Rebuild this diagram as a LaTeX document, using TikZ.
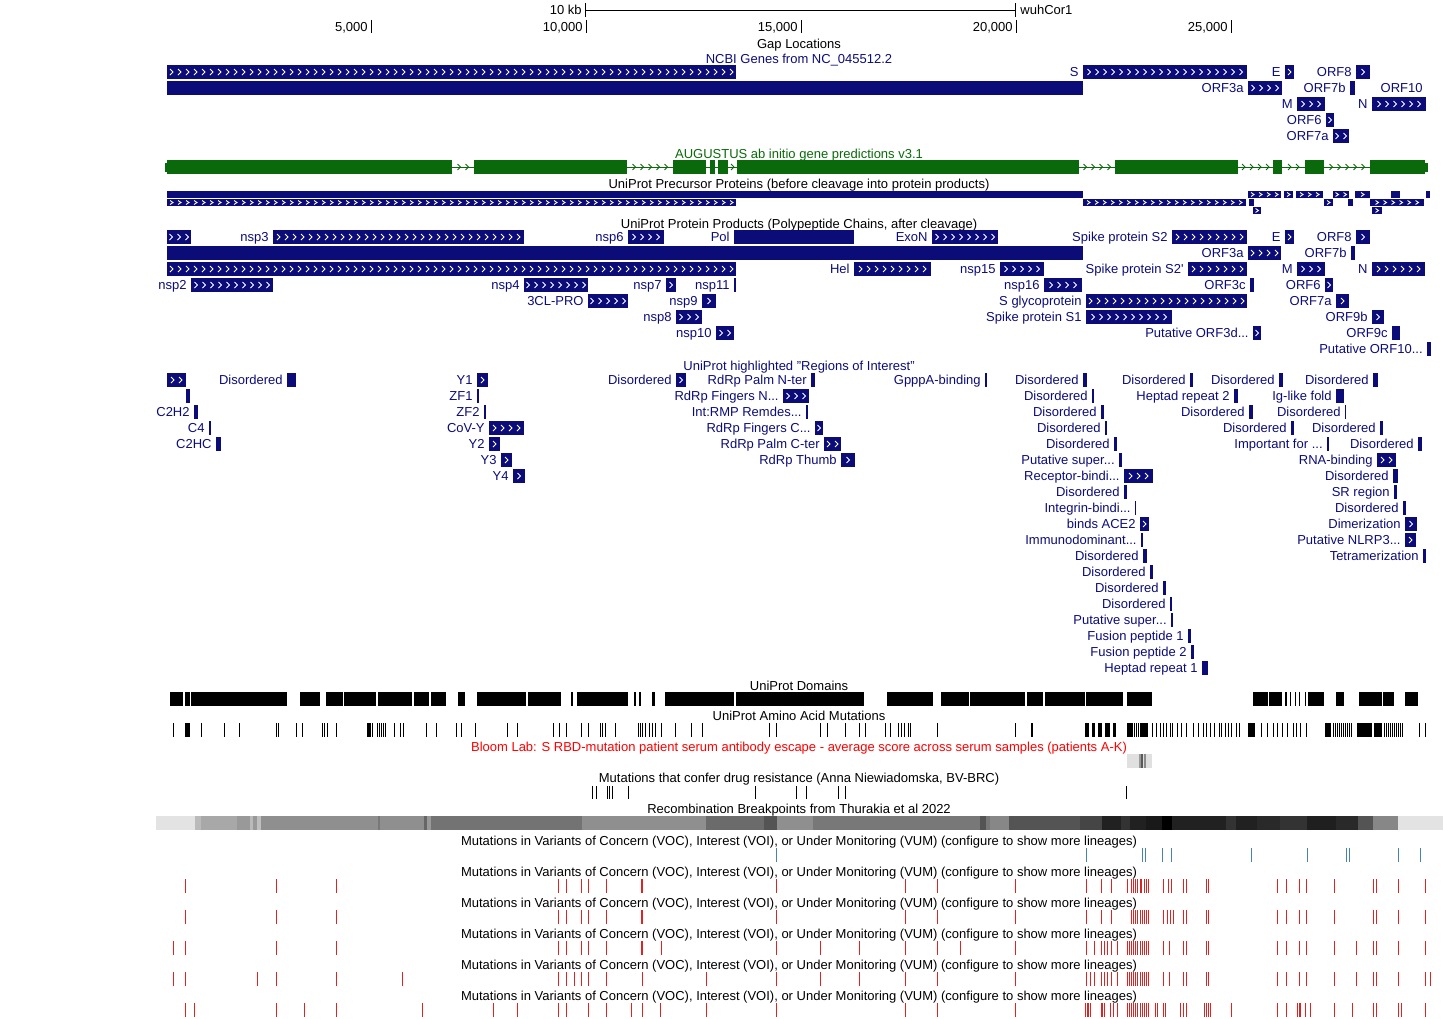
\documentclass[tikz,border=0pt]{standalone}
\usepackage{fontspec}
\setmainfont{Liberation Sans}
\definecolor{genenavy}{RGB}{12,12,120}
\definecolor{augustgreen}{RGB}{10,105,10}
\definecolor{vocred}{RGB}{222,35,35}
\definecolor{vocblue}{RGB}{70,130,180}
\definecolor{bloomred}{RGB}{255,0,0}
\tikzset{
  smalltext/.style={font=\fontsize{6.5}{7.5}\selectfont, inner sep=0pt, text height=4.6pt, text depth=0pt},
  flabel/.style={smalltext, text=genenavy, anchor=east, xshift=-2pt},
  tracktitle/.style={smalltext},
  feature/.style={fill=genenavy},
  chevron/.style={line width=.45pt},
  mut/.style={line width=.5pt},
  mutthick/.style={line width=1pt},
}
\newcounter{featno}
\newcommand\chevs[5]{%
  \pgfmathtruncatemacro\nchev{((#2)-(#1))/8}%
  \ifnum\nchev>0
    \pgfmathsetmacro\chevx{(#1)+((#2)-(#1)-8*(\nchev-1))/2-1.5}%
    \foreach \k in {1,...,\nchev}{%
      \draw[chevron,#5] ({\chevx+8*(\k-1)},#3-#4) -- ++(3,#4) -- ++(-3,#4);}%
  \fi}
\newcommand\chevbox[3]{\fill[feature] (#1,#3-7) rectangle (#2,#3+7);\chevs{#1}{#2}{#3}{3}{white}}
\newcommand\solidbox[3]{\fill[feature] (#1,#3-7) rectangle (#2,#3+7);}
\newcommand\flab[3]{\stepcounter{featno}\node[flabel] (f\thefeatno) at (#1,#2) {#3};}
\newcommand\cfeat[4]{\chevbox{#1}{#2}{#3}\flab{#1}{#3}{#4}}
\newcommand\pfeat[4]{\solidbox{#1}{#2}{#3}\flab{#1}{#3}{#4}}
\newcommand\sqc[3]{\fill[feature] (#1,#3-3.5) rectangle (#2,#3+3.5);\chevs{#1}{#2}{#3}{2}{white}}
\newcommand\sqp[3]{\fill[feature] (#1,#3-3.5) rectangle (#2,#3+3.5);}
\begin{document}
\begin{tikzpicture}[x=.5pt,y=-.5pt]
\useasboundingbox (0,0) rectangle (1443,1018);

\draw (585,3) -- (585,17);
\draw (585,10) -- (1015,10);
\draw (1015,3) -- (1015,17);
\node[smalltext, anchor=east] (scalelab) at (582,9.5) {10 kb};
\node[smalltext, anchor=west] (dblab) at (1020,9.5) {wuhCor1};
\foreach \t/\v in {371/{5,000}, 586/{10,000}, 801/{15,000}, 1016/{20,000}, 1231/{25,000}} {
  \draw (\t,20) -- (\t,33);
  \node[smalltext, anchor=east] (tick\t) at (\t-3,27) {\v};
}

\node[tracktitle] (gaps) at (799,44) {Gap Locations};
\node[tracktitle, text=genenavy] (ncbi) at (799,59) {NCBI Genes from NC\_045512.2};
\chevbox{167}{736}{72}
\cfeat{1083}{1247}{72}{S}
\cfeat{1285}{1294}{72}{E}
\cfeat{1356}{1370}{72}{ORF8}
\solidbox{167}{1083}{88}
\cfeat{1248}{1282}{88}{ORF3a}
\pfeat{1350}{1355}{88}{ORF7b}
\flab{1427}{88}{ORF10}
\cfeat{1297}{1325}{104}{M}
\cfeat{1372}{1426}{104}{N}
\cfeat{1326}{1334}{120}{ORF6}
\cfeat{1333}{1349}{136}{ORF7a}

\node[tracktitle, text=augustgreen] (augustus) at (799,154) {AUGUSTUS ab initio gene predictions v3.1};
\draw[augustgreen, line width=.5pt] (165,167) -- (1428,167);
\foreach \a/\b in {167/452, 474/627, 673/706, 710/715, 718/728, 737/1079, 1115/1238, 1273/1282, 1305/1324, 1370/1425}
  \fill[augustgreen] (\a,160) rectangle (\b,174);
\fill[augustgreen] (165,163) rectangle (167,172);
\fill[augustgreen] (1425,163) rectangle (1428,172);
\foreach \a/\b in {452/474, 627/673, 728/737, 1079/1115, 1238/1273, 1282/1305, 1324/1370}
  {\chevs{\a}{\b}{167}{3}{augustgreen}}

\node[tracktitle] (precursor) at (799,184) {UniProt Precursor Proteins (before cleavage into protein products)};
\sqp{167}{1083}{194.5}
\sqc{1248}{1281}{194.5}
\sqc{1284}{1293}{194.5}
\sqc{1296}{1323}{194.5}
\sqc{1333}{1349}{194.5}
\sqc{1355}{1370}{194.5}
\sqp{1391}{1400}{194.5}
\sqp{1426}{1430}{194.5}
\sqc{167}{736}{202.5}
\sqc{1083}{1246}{202.5}
\sqp{1249}{1254}{202.5}
\sqc{1324}{1333}{202.5}
\sqp{1348}{1353}{202.5}
\sqc{1370}{1424}{202.5}
\sqc{1253}{1261}{210.5}
\sqc{1372}{1382}{210.5}

\node[tracktitle] (products) at (799,224) {UniProt Protein Products (Polypeptide Chains, after cleavage)};
\chevbox{167}{191}{237}
\cfeat{273}{524}{237}{nsp3}
\cfeat{628}{664}{237}{nsp6}
\pfeat{734}{854}{237}{Pol}
\cfeat{932}{998}{237}{ExoN}
\cfeat{1172}{1247}{237}{Spike protein S2}
\cfeat{1285}{1294}{237}{E}
\cfeat{1356}{1370}{237}{ORF8}
\solidbox{167}{1083}{253}
\cfeat{1248}{1281}{253}{ORF3a}
\pfeat{1351}{1355}{253}{ORF7b}
\chevbox{167}{736}{269}
\cfeat{854}{931}{269}{Hel}
\cfeat{1000}{1044}{269}{nsp15}
\cfeat{1188}{1247}{269}{Spike protein S2\textquotesingle}
\cfeat{1297}{1325}{269}{M}
\cfeat{1372}{1425}{269}{N}
\cfeat{191}{273}{285}{nsp2}
\cfeat{524}{588}{285}{nsp4}
\cfeat{666}{676}{285}{nsp7}
\pfeat{734}{736}{285}{nsp11}
\cfeat{1044}{1082}{285}{nsp16}
\pfeat{1250}{1254}{285}{ORF3c}
\cfeat{1325}{1333}{285}{ORF6}
\cfeat{588}{628}{301}{3CL-PRO}
\cfeat{702}{716}{301}{nsp9}
\cfeat{1086}{1247}{301}{S glycoprotein}
\cfeat{1336}{1349}{301}{ORF7a}
\cfeat{676}{702}{317}{nsp8}
\cfeat{1086}{1172}{317}{Spike protein S1}
\cfeat{1372}{1384}{317}{ORF9b}
\cfeat{716}{734}{333}{nsp10}
\cfeat{1253}{1261}{333}{Putative ORF3d...}
\pfeat{1392}{1400}{333}{ORF9c}
\pfeat{1427}{1431}{349}{Putative ORF10...}

\node[tracktitle, text=genenavy] (regions) at (799,366) {UniProt highlighted "Regions of Interest"};
\chevbox{167}{186}{380}
\pfeat{287}{296}{380}{Disordered}
\cfeat{477}{488}{380}{Y1}
\cfeat{676}{686}{380}{Disordered}
\pfeat{811}{815}{380}{RdRp Palm N-ter}
\pfeat{985}{987}{380}{GpppA-binding}
\pfeat{1083}{1087}{380}{Disordered}
\pfeat{1190}{1193}{380}{Disordered}
\pfeat{1279}{1283}{380}{Disordered}
\pfeat{1373}{1378}{380}{Disordered}
\solidbox{186}{190}{396}
\pfeat{477}{479}{396}{ZF1}
\cfeat{783}{809}{396}{RdRp Fingers N...}
\pfeat{1092}{1094}{396}{Disordered}
\pfeat{1234}{1238}{396}{Heptad repeat 2}
\pfeat{1336}{1344}{396}{Ig-like fold}
\pfeat{194}{198}{412}{C2H2}
\pfeat{484}{486}{412}{ZF2}
\pfeat{806}{808}{412}{Int:RMP Remdes...}
\pfeat{1101}{1104}{412}{Disordered}
\pfeat{1249}{1253}{412}{Disordered}
\pfeat{1345}{1346}{412}{Disordered}
\pfeat{209}{211}{428}{C4}
\cfeat{489}{524}{428}{CoV-Y}
\cfeat{815}{823}{428}{RdRp Fingers C...}
\pfeat{1105}{1107}{428}{Disordered}
\pfeat{1291}{1294}{428}{Disordered}
\pfeat{1380}{1383}{428}{Disordered}
\pfeat{216}{221}{444}{C2HC}
\cfeat{489}{500}{444}{Y2}
\cfeat{824}{841}{444}{RdRp Palm C-ter}
\pfeat{1114}{1117}{444}{Disordered}
\pfeat{1327}{1329}{444}{Important for ...}
\pfeat{1418}{1422}{444}{Disordered}
\cfeat{501}{512}{460}{Y3}
\cfeat{841}{855}{460}{RdRp Thumb}
\pfeat{1119}{1122}{460}{Putative super...}
\cfeat{1377}{1396}{460}{RNA-binding}
\cfeat{513}{525}{476}{Y4}
\cfeat{1124}{1153}{476}{Receptor-bindi...}
\pfeat{1393}{1398}{476}{Disordered}
\pfeat{1124}{1127}{492}{Disordered}
\pfeat{1394}{1397}{492}{SR region}
\pfeat{1135}{1136}{508}{Integrin-bindi...}
\pfeat{1403}{1406}{508}{Disordered}
\cfeat{1140}{1149}{524}{binds ACE2}
\cfeat{1405}{1417}{524}{Dimerization}
\pfeat{1141}{1142.5}{540}{Immunodominant...}
\cfeat{1405}{1416}{540}{Putative NLRP3...}
\pfeat{1143}{1147}{556}{Disordered}
\pfeat{1423}{1426}{556}{Tetramerization}
\pfeat{1150}{1153}{572}{Disordered}
\pfeat{1163}{1166}{588}{Disordered}
\pfeat{1170}{1172}{604}{Disordered}
\pfeat{1171}{1172.5}{620}{Putative super...}
\pfeat{1188}{1191}{636}{Fusion peptide 1}
\pfeat{1191}{1194}{652}{Fusion peptide 2}
\pfeat{1202}{1208}{668}{Heptad repeat 1}

\node[tracktitle] (domains) at (799,686) {UniProt Domains};
\foreach \a/\b in {169.5/183, 185/189.5, 191/287, 300/320, 326/343, 344/376, 378/412, 414/429, 431/445.5, 458/464.5, 476.5/526, 528/561, 571/572.5, 577/628, 634/635.5, 639/640.5, 652/655, 665/734, 736/864, 887/933, 941/969, 970/1025, 1027/1043, 1045/1085, 1086/1123, 1127/1152, 1252.5/1268, 1269/1282, 1285/1287, 1289.5/1290.5, 1295/1296, 1298.5/1299.5, 1304.5/1305.5, 1308/1324, 1336/1344, 1359/1382, 1383/1394, 1405/1418}
  \fill (\a,692) rectangle (\b,706);

\node[tracktitle] (aamut) at (799,716) {UniProt Amino Acid Mutations};
\foreach \m in {173.6,201,224.7,239,276.5,278,296,302.7,322,324,327,336.7,370.5,372.5,377,379,381,383,385,394,400,403,426,436,456,461,475,507,517,553,559,566,581,588,600,602,605.5,615.6,638,640,642,645,649,652,655.5,661,675,691.5,702.7,769.5,776.5,820,827,845,859,865,885,890,898,901,904.6,908,910,937.5,1015,1031,1032.5,1134,1136,1138,1152.5,1156.7,1160,1163,1166,1170,1172,1177.5,1181.7,1186.7,1193,1198,1203.7,1206.7,1210,1214,1219,1221.5,1225,1228.7,1231.7,1236,1239,1261,1267,1273,1277.5,1282.5,1287,1293,1296,1300,1306.7,1333,1335,1337,1339,1341,1343,1345,1347,1349,1351,1384,1386,1388,1390,1392,1394,1396,1398,1400,1402,1419,1425}
  \draw[mut] (\m,723) -- (\m,737);
\foreach \a/\b in {185/190, 367/369.5, 1084.6/1088.8, 1092/1095.4, 1097.5/1101.7, 1104.6/1110, 1113/1116, 1126.7/1132.5, 1140/1148, 1248/1254.6, 1325/1331, 1356.7/1372, 1374/1381.7}
  \fill (\a,723) rectangle (\b,737);

\node[tracktitle, text=bloomred] (bloom) at (799,747) {Bloom Lab: S RBD-mutation patient serum antibody escape - average score across serum samples (patients A-K)};
\fill[black!12] (1127,754) rectangle (1152,768);
\fill[black!40] (1139,754) rectangle (1141,768);
\fill[black!65] (1141,754) rectangle (1143,768);
\fill[black!45] (1144,754) rectangle (1146,768);

\node[tracktitle] (drugres) at (799,778) {Mutations that confer drug resistance (Anna Niewiadomska, BV-BRC)};
\foreach \m in {592,596,607.7,609.8,612.7,628,755.8,796.5,806,838,845,1126.7}
  \draw[mut] (\m,786) -- (\m,799);

\node[tracktitle] (recomb) at (799,809) {Recombination Breakpoints from Thurakia et al 2022};
\foreach \a/\b/\g in {156/195/11, 195/200.6/27, 200.6/237/34, 237/249.6/40, 249.6/253/27, 253/257/40, 257/261/25, 261/378/44, 378/380/53, 380/424/44, 424/427/60, 427/431/40, 431/582/55, 582/706/44, 706/764/58, 764/776.6/67, 776.6/813/44, 813/980/53, 980/986/67, 986/990/53, 990/1009/47, 1009/1079.6/67, 1079.6/1101.7/73, 1101.7/1121/87, 1121/1129.6/80, 1129.6/1146/87, 1146/1162/90, 1162/1172/100, 1172/1226/87, 1226/1236/80, 1236/1257/87, 1257/1280/84, 1280/1307/80, 1307/1336/88, 1336/1357.5/84, 1357.5/1373/67, 1373/1398/47, 1398/1443/11}
  \fill[black!\g] (\a,816) rectangle (\b,830);

\foreach \y in {840.5,871.5,902.5,933.5,964.5,995.5}
  \node[tracktitle] (voc\y) at (799,\y) {Mutations in Variants of Concern (VOC), Interest (VOI), or Under Monitoring (VUM) (configure to show more lineages)};
\foreach \m in {776.6,1086.7,1142,1145,1162,1171,1251,1307.5,1346,1349,1398,1420}
  \draw[mut, vocblue] (\m,848) -- (\m,862);
\foreach \m in {185,276.5,336.7,558.7,566.6,581.5,588,606.4,776.6,905.4,937,1015,1086.7,1101.7,1111.7,1127.5,1131.5,1133,1135,1137,1140,1141.5,1144,1146,1148,1163,1168,1171,1183,1186,1206.7,1208,1277.5,1286.7,1299,1306,1334.6,1373.7,1376.7,1398,1425}
  \draw[mut, vocred] (\m,879) -- (\m,893);
\foreach \m in {185,276.5,336.7,558.7,566.6,581.5,588,606.4,776.6,905.4,937,1015,1086.7,1101.7,1111.7,1131.5,1133,1135,1137,1140,1142,1144,1146,1148,1163,1167,1170,1173,1183,1186,1206.7,1208,1277.5,1286.7,1299,1306,1334.6,1373.7,1376.7,1398,1425}
  \draw[mut, vocred] (\m,910) -- (\m,924);
\foreach \m in {173.6,185,276.5,336.7,558.7,566.6,581.5,588,606.4,661.6,776.6,820.4,859.6,905.4,937,960.4,1015,1086.7,1094,1101.7,1104.6,1107.5,1111.7,1117,1127.5,1129.5,1131.5,1133,1135,1137,1140,1142,1144,1146,1148,1163,1169,1183,1186,1206.7,1208,1277.5,1286.7,1299,1306,1334.6,1356.7,1373.7,1376.7,1398,1425}
  \draw[mut, vocred] (\m,941) -- (\m,955);
\foreach \m in {173.6,185,257,276.5,336.7,402.7,558.7,566.6,574,581.5,588,606.4,642,706.8,776.6,820.4,859.6,905.4,937,1015,1086.7,1090,1094,1101.7,1104.6,1107.5,1111.7,1117,1127.5,1129.5,1131.5,1133,1135,1137,1140,1142,1144,1146,1148,1163,1169,1183,1186,1206.7,1208,1277.5,1286.7,1299,1306,1334.6,1356.7,1373.7,1376.7,1398,1425,1430}
  \draw[mut, vocred] (\m,972) -- (\m,986);
\foreach \m in {185,194.4,276.5,304,336.7,422.6,493.6,517.6,558.7,566.6,588,606.4,631.7,642,660.8,706.8,776.6,905.4,937,1015,1085.5,1087,1088.5,1090,1101,1102.5,1104,1110.8,1113.3,1117,1127.5,1129.5,1131.5,1133,1135,1137,1140,1142,1144,1146,1148,1155.4,1157.5,1163,1165,1180.4,1183.7,1186,1204.6,1206.5,1208.5,1210.8,1231.7,1277.5,1286.7,1297.5,1299,1300.4,1305.8,1310,1334.6,1352.5,1373.7,1376.7,1398.7,1401.7,1425}
  \draw[mut, vocred] (\m,1003) -- (\m,1017);
\foreach \y in {879,910,941}
  \draw[mutthick, vocred] (642,\y) -- (642,\y+14);
\end{tikzpicture}
\end{document}
